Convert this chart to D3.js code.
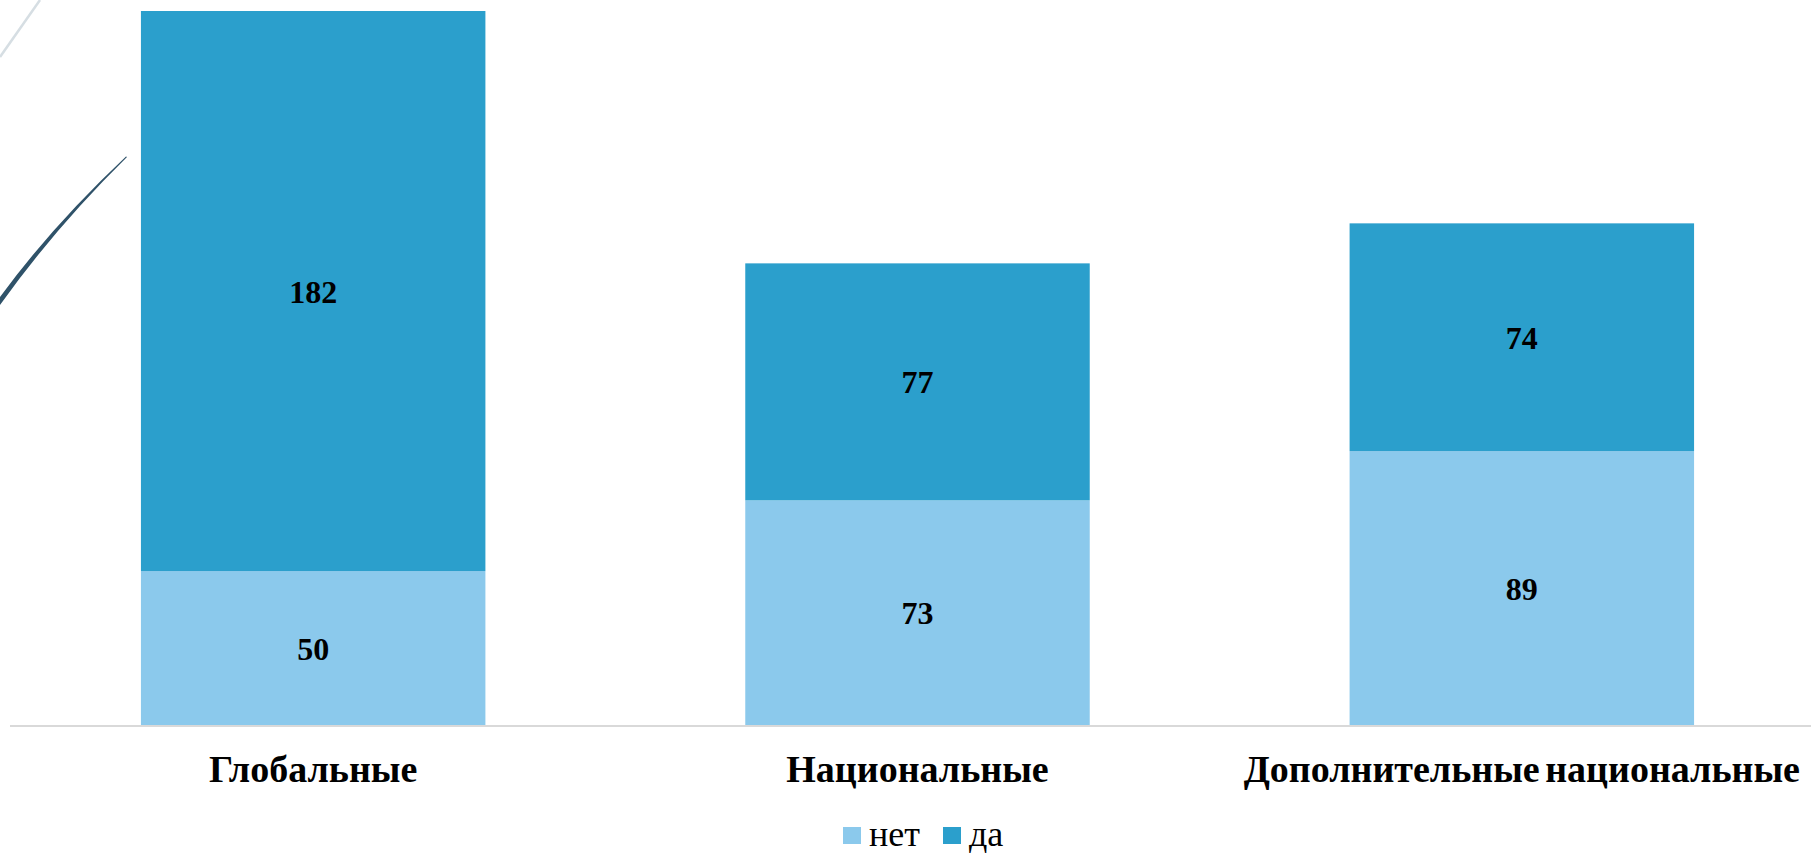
<!DOCTYPE html>
<html>
<head>
<meta charset="utf-8">
<script src="https://cdn.jsdelivr.net/npm/d3@7"></script>
<style>
  body { margin: 0; background: #fff; }
  svg { display: block; }
</style>
</head>
<body>
<script>
// данные
var categories = ["Глобальные", "Национальные", "Дополнительные национальные"];
var seriesNames = ["нет", "да"];
var net = [50, 73, 89];
var da = [182, 77, 74];
var colors = ["#8bc9ec", "#2b9fcc"];

var w = 1811, h = 854;
var svg = d3.select("body").append("svg")
  .attr("width", w)
  .attr("height", h);

// декоративные линии слева
svg.append("line")
  .attr("x1", 0).attr("y1", 57)
  .attr("x2", 40).attr("y2", 0)
  .attr("stroke", "#d6dee3")
  .attr("stroke-width", 2.5);
svg.append("path")
  .attr("d", "M0,305 Q55,228 127,157 L126,156.5 Q52,226 0,297 Z")
  .attr("fill", "#2f5269");

var x = d3.scaleBand()
  .domain(categories)
  .range([11, 1824])
  .paddingInner(0.43)
  .paddingOuter(0.215);

var y = d3.scaleLinear()
  .domain([0, 232])
  .range([725, 11]);

var table = categories.map(function(c, i) {
  return { cat: c, "нет": net[i], "да": da[i] };
});
var stacked = d3.stack().keys(seriesNames)(table);

var groups = svg.selectAll("g.series")
  .data(stacked)
  .enter()
  .append("g")
  .attr("class", "series")
  .attr("fill", function(d, i) { return colors[i]; });

groups.selectAll("rect")
  .data(function(d) { return d; })
  .enter()
  .append("rect")
  .attr("x", function(d) { return x(d.data.cat); })
  .attr("y", function(d) { return y(d[1]); })
  .attr("width", x.bandwidth())
  .attr("height", function(d) { return y(d[0]) - y(d[1]); });

// подписи значений
groups.selectAll("text")
  .data(function(d) { return d; })
  .enter()
  .append("text")
  .text(function(d) { return d[1] - d[0]; })
  .attr("x", function(d) { return x(d.data.cat) + x.bandwidth() / 2; })
  .attr("y", function(d) { return (y(d[0]) + y(d[1])) / 2; })
  .attr("dy", "0.36em")
  .attr("text-anchor", "middle")
  .attr("font-family", "Liberation Serif, serif")
  .attr("font-weight", "bold")
  .attr("font-size", "32px")
  .attr("fill", "#000");

// ось
svg.append("line")
  .attr("x1", 10).attr("x2", w)
  .attr("y1", 726).attr("y2", 726)
  .attr("stroke", "#d9d9d9")
  .attr("stroke-width", 2);

svg.selectAll("text.cat")
  .data(categories)
  .enter()
  .append("text")
  .attr("class", "cat")
  .text(function(d) { return d; })
  .attr("x", function(d) { return x(d) + x.bandwidth() / 2; })
  .attr("y", 782)
  .attr("text-anchor", "middle")
  .attr("font-family", "Liberation Serif, serif")
  .attr("font-weight", "bold")
  .attr("font-size", "38px")
  .attr("word-spacing", "-4px")
  .attr("fill", "#000");

// легенда
var legend = svg.append("g");
var legX = [843, 943];
seriesNames.forEach(function(s, i) {
  legend.append("rect")
    .attr("x", legX[i]).attr("y", 827)
    .attr("width", 18).attr("height", 17)
    .attr("fill", colors[i]);
  legend.append("text")
    .attr("x", legX[i] + 26).attr("y", 846)
    .text(s)
    .attr("font-family", "Liberation Serif, serif")
    .attr("font-size", "36px")
    .attr("fill", "#000");
});
</script>
</body>
</html>
